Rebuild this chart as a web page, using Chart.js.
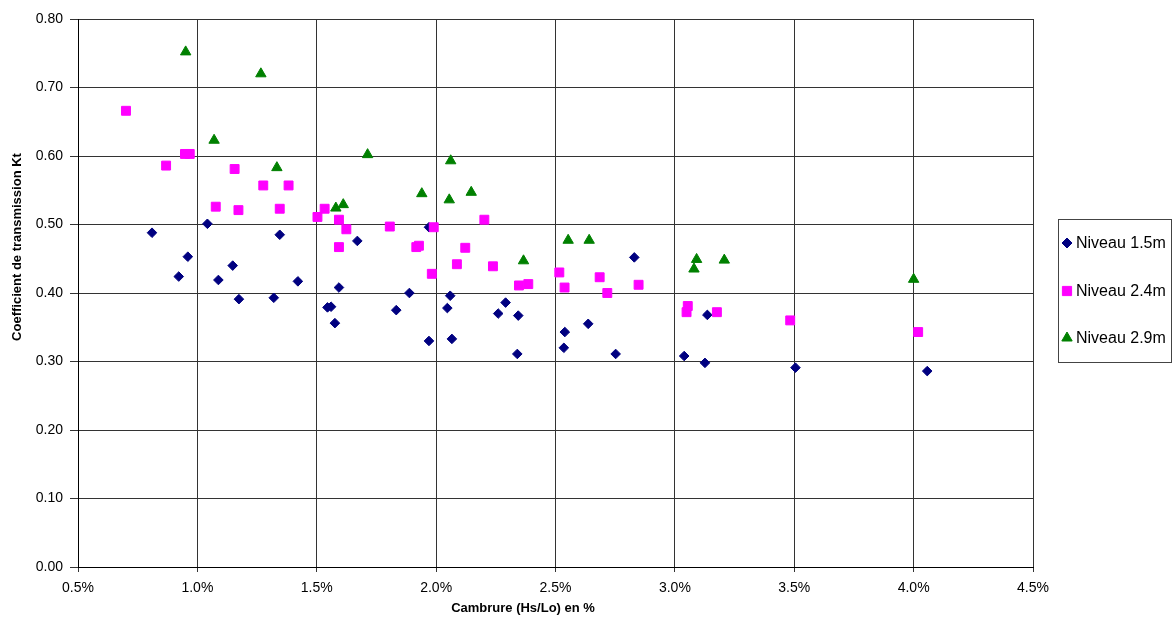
<!DOCTYPE html>
<html>
<head>
<meta charset="utf-8">
<script src="https://cdn.jsdelivr.net/npm/chart.js@4.4.1/dist/chart.umd.min.js"></script>
<style>
  body { margin: 0; background: #fff; }
  #wrap { width: 1175px; height: 628px; }
</style>
</head>
<body>
<div id="wrap"><canvas id="kt" width="1175" height="628"></canvas></div>
<script>
// valeurs (cambrure en %, Kt)
const niv15X = [0.81, 0.922, 0.960, 1.042, 1.088, 1.148, 1.174, 1.320, 1.345, 1.421, 1.545, 1.56, 1.576, 1.593, 1.670, 1.833, 1.888, 1.970, 1.970, 2.047, 2.059, 2.066, 2.260, 2.291, 2.344, 2.340, 2.535, 2.539, 2.637, 2.752, 2.830, 3.039, 3.126, 3.136, 3.505, 4.057];
const niv15Y = [0.488, 0.424, 0.453, 0.501, 0.419, 0.440, 0.391, 0.393, 0.485, 0.417, 0.379, 0.380, 0.356, 0.408, 0.476, 0.375, 0.400, 0.496, 0.330, 0.378, 0.396, 0.333, 0.370, 0.386, 0.367, 0.311, 0.320, 0.343, 0.355, 0.311, 0.452, 0.308, 0.298, 0.368, 0.291, 0.286];

const niv24X = [0.701, 0.869, 0.948, 0.968, 1.077, 1.156, 1.172, 1.276, 1.345, 1.382, 1.503, 1.533, 1.593, 1.593, 1.624, 1.806, 1.917, 1.928, 1.982, 1.990, 2.087, 2.122, 2.202, 2.238, 2.347, 2.386, 2.516, 2.538, 2.685, 2.717, 2.848, 3.049, 3.054, 3.176, 3.483, 4.019];
const niv24Y = [0.666, 0.586, 0.603, 0.603, 0.526, 0.581, 0.521, 0.557, 0.523, 0.557, 0.511, 0.523, 0.507, 0.467, 0.493, 0.497, 0.467, 0.469, 0.428, 0.496, 0.442, 0.466, 0.507, 0.439, 0.411, 0.413, 0.430, 0.408, 0.423, 0.400, 0.412, 0.372, 0.381, 0.372, 0.360, 0.343];

const niv29X = [0.951, 1.070, 1.266, 1.333, 1.580, 1.611, 1.713, 1.940, 2.055, 2.061, 2.147, 2.366, 2.553, 2.641, 3.080, 3.091, 3.207, 4.000];
const niv29Y = [0.752, 0.623, 0.720, 0.583, 0.524, 0.529, 0.602, 0.545, 0.536, 0.593, 0.547, 0.447, 0.477, 0.477, 0.435, 0.449, 0.448, 0.420];

const seriesNames = ['Niveau 1.5m', 'Niveau 2.4m', 'Niveau 2.9m'];
const xTitle = 'Cambrure (Hs/Lo) en %';
const yTitle = 'Coefficient de transmission Kt';

const FONT = "'Liberation Sans', Arial, sans-serif";

const toPoints = (xs, ys) => xs.map((x, i) => ({ x: x, y: ys[i] }));

// titres des axes + légende encadrée façon Excel
const decor = {
    id: 'decor',
    afterDraw(chart) {
        const c = chart.ctx;
        c.save();
        c.fillStyle = '#000';
        c.font = 'bold 13px ' + FONT;
        c.textAlign = 'center';
        c.textBaseline = 'middle';
        c.fillText(xTitle, 523, 608);
        c.translate(17, 247);
        c.rotate(-Math.PI / 2);
        c.fillText(yTitle, 0, 0);
        c.restore();

        // légende
        c.save();
        c.strokeStyle = '#444';
        c.lineWidth = 1;
        c.strokeRect(1058.5, 219.5, 113, 143);
        const rows = [243, 291, 338];
        chart.data.datasets.forEach((ds, i) => {
            c.fillStyle = ds.backgroundColor;
            c.strokeStyle = ds.borderColor;
            Chart.helpers.drawPoint(c, {
                pointStyle: ds.pointStyle,
                radius: ds.pointStyle === 'rectRot' ? 5 : (ds.pointStyle === 'rect' ? 6.5 : 6),
                rotation: 0,
                borderWidth: 1
            }, 1067, rows[i]);
            c.fillStyle = '#000';
            c.font = '16px ' + FONT;
            c.textAlign = 'left';
            c.textBaseline = 'middle';
            c.fillText(ds.label, 1076, rows[i] + 1);
        });
        c.restore();
    }
};

new Chart(document.getElementById('kt'), {
    type: 'scatter',
    data: {
        datasets: [{
            label: seriesNames[0],
            data: toPoints(niv15X, niv15Y),
            pointStyle: 'rectRot',
            pointRadius: 4.8,
            backgroundColor: '#000080',
            borderColor: '#000080',
            borderWidth: 1,
            order: 3
        }, {
            label: seriesNames[1],
            data: toPoints(niv24X, niv24Y),
            pointStyle: 'rect',
            pointRadius: 6.3,
            backgroundColor: '#FF00FF',
            borderColor: '#FF00FF',
            borderWidth: 1,
            order: 2
        }, {
            label: seriesNames[2],
            data: toPoints(niv29X, niv29Y),
            pointStyle: 'triangle',
            pointRadius: 6,
            backgroundColor: '#008000',
            borderColor: '#008000',
            borderWidth: 1,
            order: 1
        }]
    },
    options: {
        responsive: false,
        animation: false,
        layout: { padding: { left: 0, top: 19, right: 142, bottom: 0 } },
        plugins: {
            legend: { display: false },
            tooltip: { enabled: false }
        },
        scales: {
            x: {
                type: 'linear',
                min: 0.5,
                max: 4.5,
                afterFit: (scale) => { scale.height = 61; },
                ticks: {
                    stepSize: 0.5,
                    color: '#000',
                    font: { family: FONT, size: 14 },
                    padding: 8,
                    maxRotation: 0,
                    callback: (v) => v.toFixed(1) + '%'
                },
                grid: { color: '#333', lineWidth: 1, tickLength: 5 },
                border: { color: '#000' }
            },
            y: {
                min: 0,
                max: 0.8,
                afterFit: (scale) => { scale.width = 78; },
                ticks: {
                    stepSize: 0.1,
                    color: '#000',
                    font: { family: FONT, size: 14 },
                    padding: 7,
                    callback: (v) => v.toFixed(2)
                },
                grid: { color: '#333', lineWidth: 1, tickLength: 8 },
                border: { color: '#000' }
            }
        }
    },
    plugins: [decor]
});
</script>
</body>
</html>
